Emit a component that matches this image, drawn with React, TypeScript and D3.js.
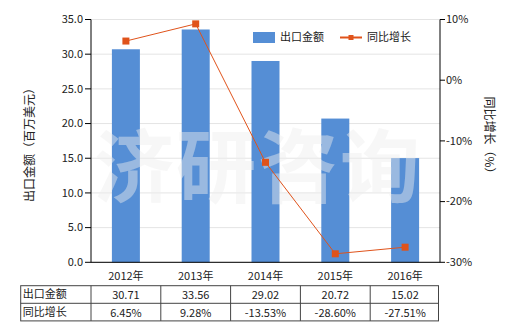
import React from "react";
import * as d3 from "d3";

const categories = ["2012年", "2013年", "2014年", "2015年", "2016年"];
const exportValues = [30.71, 33.56, 29.02, 20.72, 15.02];
const growthValues = [6.45, 9.28, -13.53, -28.6, -27.51];
const leftTicks = [0, 5, 10, 15, 20, 25, 30, 35];
const rightTicks = [10, 0, -10, -20, -30];
const seriesNames = ["出口金额", "同比增长"];

const W = 520;
const H = 330;
const m = { left: 91, right: 440, top: 19.5, bottom: 262.3 };
const FONT = "'Noto Sans CJK SC', 'Noto Sans', sans-serif";
const BAR = "#558ed5";
const LINE = "#e0531b";

export default function App() {
  const x = d3.scaleBand<string>().domain(categories).range([m.left, m.right]).paddingInner(0.6).paddingOuter(0.3);
  const xc = d3.scaleBand<string>().domain(categories).range([m.left, m.right]);
  const yL = d3.scaleLinear().domain([0, 35]).range([m.bottom, m.top]);
  const yR = d3.scaleLinear().domain([-30, 10]).range([m.bottom, m.top]);
  const line = d3
    .line<number>()
    .x((_, i) => xc(categories[i])! + xc.bandwidth() / 2)
    .y((d) => yR(d));

  const tableLeft = 20.7;
  const rowTop = 285.7;
  const rowH = 17.6;
  const colW = xc.bandwidth();
  const colEdges = [tableLeft, ...categories.map((c) => xc(c)!), m.right - 1.5];

  return (
    <div style={{ position: "fixed", left: 0, top: 0 }}>
      <svg width={W} height={H} style={{ display: "block", fontFamily: FONT }}>
        <rect width={W} height={H} fill="#fff" />
        {leftTicks.map((t) => (
          <line key={"g" + t} x1={m.left} x2={m.right} y1={yL(t)} y2={yL(t)} stroke="#e4e4e4" strokeWidth={1} />
        ))}
        {categories.map((c, i) => (
          <rect
            key={c}
            x={xc(c)! + colW / 2 - 14}
            width={28}
            y={yL(exportValues[i])}
            height={yL(0) - yL(exportValues[i])}
            fill={BAR}
          />
        ))}
        <text
          x={258}
          y={196}
          textAnchor="middle"
          fontSize={80}
          fontWeight="bold"
          fill="#eeeeee"
          opacity={0.45}
          letterSpacing={2}
        >
          济研咨询
        </text>
        <path d={line(growthValues)!} fill="none" stroke={LINE} strokeWidth={1} />
        {growthValues.map((v, i) => (
          <rect
            key={"mk" + i}
            x={xc(categories[i])! + colW / 2 - 3.5}
            y={yR(v) - 3.5}
            width={7}
            height={7}
            fill={LINE}
          />
        ))}
        {/* left axis */}
        <line x1={m.left} x2={m.left} y1={m.top} y2={m.bottom} stroke="#000" />
        {leftTicks.map((t) => (
          <g key={"lt" + t}>
            <line x1={m.left - 6} x2={m.left} y1={yL(t)} y2={yL(t)} stroke="#000" />
            <text x={m.left - 8} y={yL(t)} dy="0.35em" textAnchor="end" fontSize={11} fill="#222">
              {d3.format(".1f")(t)}
            </text>
          </g>
        ))}
        {/* right axis */}
        <line x1={m.right} x2={m.right} y1={m.top} y2={m.bottom} stroke="#000" />
        {rightTicks.map((t) => (
          <g key={"rt" + t}>
            <line x1={m.right} x2={m.right + 5} y1={yR(t)} y2={yR(t)} stroke="#000" />
            <text x={m.right + 6} y={yR(t)} dy="0.35em" textAnchor="start" fontSize={11} fill="#222">
              {t + "%"}
            </text>
          </g>
        ))}
        {/* bottom axis */}
        <line x1={m.left} x2={m.right} y1={m.bottom} y2={m.bottom} stroke="#000" />
        {categories.map((c) => (
          <text key={"xl" + c} x={xc(c)! + colW / 2} y={276} dy="0.35em" textAnchor="middle" fontSize={11} fill="#222">
            {c}
          </text>
        ))}
        {/* axis titles */}
        <text
          transform={`translate(30,142) rotate(-90)`}
          textAnchor="middle"
          dy="0.35em"
          fontSize={12}
          fill="#222"
        >
          出口金额（百万美元）
        </text>
        <text
          transform={`translate(489,138) rotate(90)`}
          textAnchor="middle"
          dy="0.35em"
          fontSize={12}
          fill="#222"
        >
          同比增长（%）
        </text>
        {/* legend */}
        <rect x={253} y={32} width={22} height={11} fill={BAR} />
        <text x={280} y={37.5} dy="0.35em" fontSize={11} fill="#222">
          {seriesNames[0]}
        </text>
        <line x1={340} x2={362} y1={37.5} y2={37.5} stroke={LINE} strokeWidth={2} />
        <rect x={348.5} y={35} width={5} height={5} fill={LINE} />
        <text x={367} y={37.5} dy="0.35em" fontSize={11} fill="#222">
          {seriesNames[1]}
        </text>
        {/* table */}
        <g stroke="#444" strokeWidth={1} fill="none">
          <rect x={tableLeft} y={rowTop} width={colEdges[colEdges.length - 1] - tableLeft} height={rowH * 2} />
          <line x1={tableLeft} x2={colEdges[colEdges.length - 1]} y1={rowTop + rowH} y2={rowTop + rowH} />
          {colEdges.slice(1, -1).map((e, i) => (
            <line key={"ce" + i} x1={e} x2={e} y1={rowTop} y2={rowTop + rowH * 2} />
          ))}
        </g>
        {[0, 1].map((r) => (
          <g key={"row" + r}>
            <text x={tableLeft + 2} y={rowTop + rowH * r + rowH / 2} dy="0.35em" fontSize={11} fill="#222">
              {seriesNames[r]}
            </text>
            {categories.map((c, i) => (
              <text
                key={"cell" + r + c}
                x={xc(c)! + colW / 2}
                y={rowTop + rowH * r + rowH / 2 + 1}
                dy="0.35em"
                textAnchor="middle"
                fontSize={11}
                fill="#222"
              >
                {r === 0 ? exportValues[i].toFixed(2) : growthValues[i].toFixed(2) + "%"}
              </text>
            ))}
          </g>
        ))}
      </svg>
    </div>
  );
}
